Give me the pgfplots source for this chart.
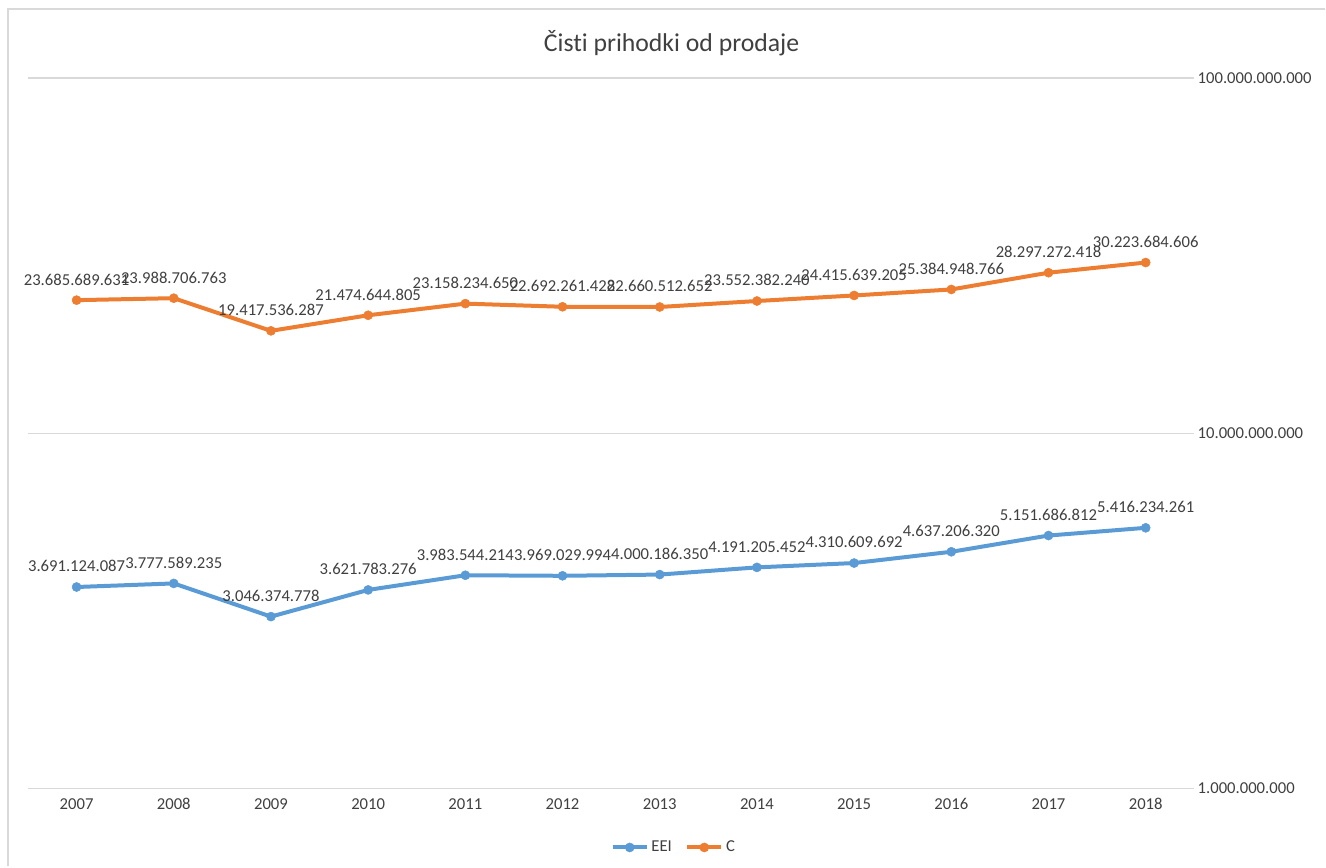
\documentclass[border=0pt]{standalone}
\usepackage{fontspec}
\setmainfont{Carlito}[Ligatures=NoCommon]
\usepackage{pgfplots}
\usepackage{pgfplotstable}
\pgfplotsset{compat=1.18}
\definecolor{cblue}{HTML}{5B9BD5}
\definecolor{corange}{HTML}{ED7D31}
\definecolor{gridc}{HTML}{D9D9D9}
\definecolor{txt}{HTML}{404040}
\pgfplotstableread{
x y label
0 3691124087 3.691.124.087
1 3777589235 3.777.589.235
2 3046374778 3.046.374.778
3 3621783276 3.621.783.276
4 3983544214 3.983.544.214
5 3969029994 3.969.029.994
6 4000186350 4.000.186.350
7 4191205452 4.191.205.452
8 4310609692 4.310.609.692
9 4637206320 4.637.206.320
10 5151686812 5.151.686.812
11 5416234261 5.416.234.261
}\eei
\pgfplotstableread{
x y label
0 23685689631 23.685.689.631
1 23988706763 23.988.706.763
2 19417536287 19.417.536.287
3 21474644805 21.474.644.805
4 23158234650 23.158.234.650
5 22692261428 22.692.261.428
6 22660512652 22.660.512.652
7 23552382240 23.552.382.240
8 24415639205 24.415.639.205
9 25384948766 25.384.948.766
10 28297272418 28.297.272.418
11 30223684606 30.223.684.606
}\ccc
\begin{document}
\begin{tikzpicture}[x=0.75pt,y=0.75pt]
\begin{axis}[
  at={(0,0)}, anchor=south west,
  scale only axis,
  width=875.25pt, height=533.25pt,
  ymode=log, ymin=1e9, ymax=1e11,
  xmin=-0.5, xmax=11.5,
  xtick={0,...,11},
  xticklabels={2007,2008,2009,2010,2011,2012,2013,2014,2015,2016,2017,2018},
  ytick={1e9,1e10,1e11},
  yticklabels={1.000.000.000,10.000.000.000,100.000.000.000},
  yticklabel pos=right,
  yticklabel style={anchor=west, xshift=-1pt},
  ymajorgrids, grid style={gridc, line width=1pt},
  major tick length=0pt, minor tick length=0pt,
  axis x line*=bottom, axis y line*=right,
  x axis line style={gridc, line width=1pt, -},
  y axis line style={draw=none},
  ticklabel style={font=\fontsize{12.5}{14}\selectfont, text=txt},
  xticklabel style={yshift=-4pt},
  point meta=explicit symbolic,
  nodes near coords,
  every node near coord/.append style={font=\fontsize{12.5}{14}\selectfont, text=txt, anchor=center, yshift=15.5pt, inner sep=0pt},
  legend style={at={(0.554,-0.083)}, anchor=center, draw=none, font=\fontsize{12.5}{14}\selectfont, text=txt, legend columns=2, /tikz/every even column/.append style={column sep=8pt}},
  legend image code/.code={\draw[#1, mark repeat=2, mark phase=2] plot coordinates {(0cm,0cm) (0.45cm,0cm) (0.9cm,0cm)};},
  clip=false,
]
\addplot[cblue, line width=3pt, mark=*, mark size=3.4pt, mark options={solid, fill=cblue, draw=cblue, line width=0.4pt}] table[x=x, y=y, meta=label] {\eei};
\addlegendentry{EEI}
\addplot[corange, line width=3pt, mark=*, mark size=3.4pt, mark options={solid, fill=corange, draw=corange, line width=0.4pt}] table[x=x, y=y, meta=label] {\ccc};
\addlegendentry{C}
\end{axis}
% frame & title (pixel coordinates relative to axis bottom-left at px (28,789))
\draw[gridc, line width=1.2pt] (8-28, -78) -- (8-28, 789-9) -- (1326-28, 789-9);
\node[font=\fontsize{19.3}{23}\selectfont, text=txt] at (672-28, 789-43) {Čisti prihodki od prodaje};
\path[use as bounding box] (-28,-78) rectangle (1326-28, 789);
\end{tikzpicture}
\end{document}
